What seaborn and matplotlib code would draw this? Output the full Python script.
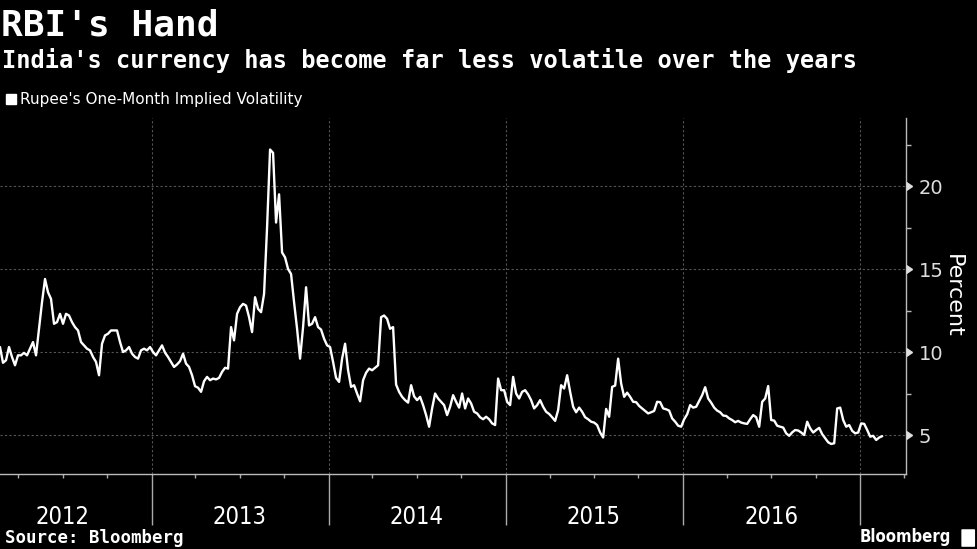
import matplotlib.pyplot as plt
import matplotlib.dates as mdates
from matplotlib.ticker import MultipleLocator, FuncFormatter
from matplotlib.lines import Line2D
from matplotlib.patches import FancyBboxPatch
import pandas as pd
import seaborn as sns

# one-month implied volatility at even steps
first_day = '2012-02-23'
last_day = '2017-02-15'
vol_2012 = [10.3, 9.35, 9.5, 10.3, 9.7, 9.2, 9.8, 9.8, 9.95, 9.8,
            10.2, 10.6, 9.8, 11.4, 13.0, 14.4, 13.6, 13.2, 11.7, 11.8,
            12.3, 11.7, 12.3, 12.2, 11.8, 11.5, 11.3, 10.6, 10.4, 10.2,
            10.1, 9.7, 9.4, 8.6, 10.5, 11.0, 11.1, 11.3, 11.3, 11.3,
            10.6, 10.0, 10.1, 10.3, 9.9, 9.7, 9.6, 10.1, 10.2, 10.1,
            10.3, 10.0, 9.8, 10.1]
vol_2013 = [10.4, 9.96, 9.7, 9.4, 9.1, 9.25, 9.45, 9.9, 9.3, 9.1,
            8.6, 7.94, 7.85, 7.6, 8.24, 8.5, 8.3, 8.4, 8.35, 8.44,
            8.8, 9.05, 9.0, 11.5, 10.7, 12.3, 12.7, 12.9, 12.8, 12.1,
            11.2, 13.3, 12.6, 12.4, 13.5, 17.5, 22.2, 22.0, 17.8, 19.5,
            16.0, 15.7, 15.0, 14.7, 13.0, 11.4, 9.6, 11.5, 13.9, 11.6]
vol_2014 = [11.7, 12.1, 11.5, 11.35, 10.8, 10.4, 10.3, 9.4, 8.44, 8.2,
            9.6, 10.5, 8.9, 7.9, 8.0, 7.5, 7.03, 8.3, 8.75, 9.0,
            8.9, 9.05, 9.2, 12.1, 12.2, 12.0, 11.4, 11.5, 8.04, 7.6,
            7.3, 7.1, 6.95, 8.0, 7.33, 7.1, 7.3, 6.8, 6.2, 5.5,
            6.6, 7.5, 7.2, 7.0, 6.8, 6.2, 6.7, 7.4, 7.0, 6.65]
vol_2015 = [7.5, 6.6, 7.2, 6.9, 6.4, 6.3, 6.07, 5.95, 6.1, 5.95,
            5.7, 5.6, 8.4, 7.7, 7.7, 7.0, 6.8, 8.5, 7.5, 7.2,
            7.6, 7.7, 7.45, 7.1, 6.6, 6.8, 7.1, 6.7, 6.4, 6.27,
            6.07, 5.85, 6.5, 8.0, 7.8, 8.6, 7.6, 6.7, 6.37, 6.65,
            6.4, 6.07, 5.95, 5.8, 5.75, 5.6, 5.15, 4.85, 6.57, 6.1]
vol_2016 = [7.9, 7.98, 9.6, 8.1, 7.3, 7.55, 7.3, 7.0, 6.98, 6.75,
            6.6, 6.45, 6.3, 6.37, 6.45, 7.0, 6.98, 6.6, 6.55, 6.47,
            6.0, 5.8, 5.56, 5.5, 5.95, 6.25, 6.8, 6.65, 6.7, 7.05,
            7.4, 7.88, 7.2, 6.95, 6.65, 6.47, 6.37, 6.17, 6.15, 6.0,
            5.9, 5.77, 5.85, 5.75, 5.7, 5.67, 5.95, 6.2, 6.07, 5.5]
vol_2017 = [7.0, 7.2, 7.95, 5.9, 5.87, 5.56, 5.5, 5.45, 5.1, 4.95,
            5.16, 5.3, 5.27, 5.15, 5.0, 5.8, 5.4, 5.15, 5.3, 5.43,
            5.05, 4.8, 4.56, 4.46, 4.5, 6.6, 6.65, 5.9, 5.5, 5.6,
            5.25, 5.1, 5.15, 5.7, 5.67, 5.3, 4.9, 4.95, 4.7, 4.85,
            4.93]

vol = vol_2012 + vol_2013 + vol_2014 + vol_2015 + vol_2016 + vol_2017
df = pd.DataFrame({'date': pd.date_range(first_day, last_day, periods=len(vol)),
                   'vol': vol})

sns.set_theme(style='dark', rc={'figure.facecolor': 'black', 'axes.facecolor': 'black',
                                'text.color': 'white', 'axes.labelcolor': 'white',
                                'xtick.color': '#cccccc', 'ytick.color': '#dddddd'})
plt.rcParams['font.family'] = ['DejaVu Sans']
narrow = ['Liberation Sans Narrow', 'DejaVu Sans']
mono = ['DejaVu Sans Mono', 'DejaVu Sans']

fig = plt.figure(figsize=(9.77, 5.49), dpi=100)
ax = fig.add_axes([0.0, 0.1366, 0.9273, 0.6485])

sns.lineplot(data=df, x='date', y='vol', color='white', linewidth=1.7, ax=ax, legend=False)

ax.set_xlim(pd.Timestamp('2012-02-23'), pd.Timestamp('2017-04-05'))
ax.set_ylim(2.65, 24.1)

# y axis on the right
ax.yaxis.tick_right()
ax.yaxis.set_label_position('right')
ax.yaxis.set_major_locator(MultipleLocator(5))
ax.yaxis.set_minor_locator(MultipleLocator(2.5))
ax.tick_params(axis='y', which='major', length=0, pad=9, labelsize=14, right=True, left=False)
ax.tick_params(axis='y', which='minor', length=3.5, width=1, color='#bbbbbb', right=True, left=False)
ax.set_ylabel('Percent', rotation=270, fontsize=16, labelpad=14)
yt = [t for t in ax.get_yticks() if 2.65 < t < 24.1]
ax.plot([1.0] * len(yt), yt, transform=ax.get_yaxis_transform(), linestyle='none',
        marker=9, markersize=6, color='#dddddd', clip_on=False, zorder=5)

# x axis: long ticks at year breaks, quarter ticks, year names in the middle
ax.xaxis.set_major_locator(mdates.YearLocator())
ax.xaxis.set_minor_locator(mdates.MonthLocator(bymonth=[1, 4, 7, 10]))
ax.xaxis.set_major_formatter(FuncFormatter(lambda x, pos: ''))
ax.xaxis.set_minor_formatter(FuncFormatter(
    lambda x, pos: str(mdates.num2date(x).year) if mdates.num2date(x).month == 7 else ''))
ax.tick_params(axis='x', which='major', length=37, width=1, color='#aaaaaa', direction='out', bottom=True)
ax.tick_params(axis='x', which='minor', length=3, width=1, color='#aaaaaa', direction='out',
               bottom=True, pad=19, labelsize=17, labelcolor='white')
for lbl in ax.get_xticklabels(minor=True):
    lbl.set_family(narrow)
    lbl.set_stretch('condensed')
ax.set_xlabel('')

ax.grid(axis='both', which='major', color='#555555', linestyle=(0, (2, 2)), linewidth=0.8)
ax.grid(which='minor', visible=False)

for side in ['left', 'top']:
    ax.spines[side].set_visible(False)
for side in ['right', 'bottom']:
    ax.spines[side].set_visible(True)
    ax.spines[side].set_color('#bbbbbb')
    ax.spines[side].set_linewidth(1)

# legend
handle = Line2D([], [], marker='s', color='white', linestyle='none', markersize=6.5)
ax.legend([handle], ["Rupee's One-Month Implied Volatility"], loc='center left',
          bbox_to_anchor=(0.005, 0.818), bbox_transform=fig.transFigure, frameon=False,
          fontsize=11, labelcolor='white', handletextpad=0.2, handlelength=0.8,
          borderpad=0, borderaxespad=0)

# titles and footer
fig.text(0.001, 0.9362, "RBI's Hand", fontsize=26, fontweight='bold', family=mono, va='baseline')
fig.text(0.002, 0.8761, "India's currency has become far less volatile over the years",
         fontsize=17, fontweight='bold', family=mono, va='baseline')
fig.text(0.005, 0.02, 'Source: Bloomberg', fontsize=12.5, fontweight='bold', family=mono, va='center')
fig.text(0.973, 0.022, 'Bloomberg', fontsize=12, fontweight='bold', family=narrow,
         stretch='condensed', ha='right', va='center')
fig.patches.append(FancyBboxPatch((0.985, 0.005), 0.012, 0.03, boxstyle='round,pad=0.001',
                                  transform=fig.transFigure, facecolor='white', edgecolor='none'))

fig.savefig('out.png', dpi=100, facecolor='black')
